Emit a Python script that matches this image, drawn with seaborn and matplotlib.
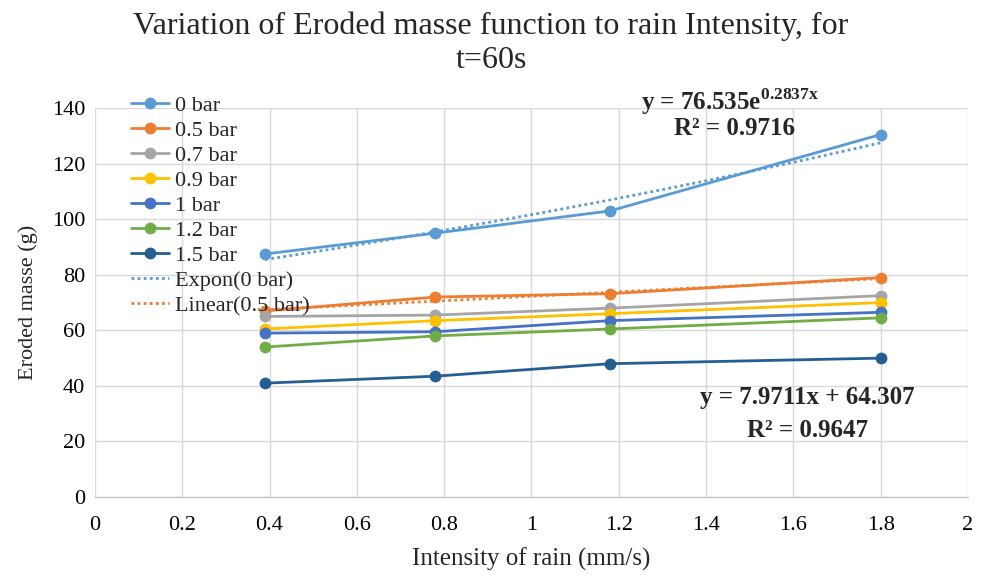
import numpy as np
import pandas as pd
import matplotlib
matplotlib.use("Agg")
import matplotlib.pyplot as plt
import seaborn as sns
from matplotlib.lines import Line2D

# data
intensity = [0.39, 0.78, 1.18, 1.8]
pressures = ["0 bar", "0.5 bar", "0.7 bar", "0.9 bar", "1 bar", "1.2 bar", "1.5 bar"]
mass_0 = [87.5, 95.0, 103.0, 130.5]
mass_05 = [67.0, 72.0, 73.2, 79.0]
mass_07 = [65.0, 65.5, 68.0, 72.5]
mass_09 = [60.5, 63.5, 66.0, 70.0]
mass_1 = [59.0, 59.5, 63.5, 66.5]
mass_12 = [54.0, 58.0, 60.5, 64.5]
mass_15 = [41.0, 43.5, 48.0, 50.0]

# trendline coefficients (as printed on the chart)
exp_a, exp_b = 76.535, 0.2837
lin_m, lin_c = 7.9711, 64.307

colors = ["#5B9BD5", "#ED7D31", "#A5A5A5", "#FFC000", "#4472C4", "#70AD47", "#255E91"]

all_mass = [mass_0, mass_05, mass_07, mass_09, mass_1, mass_12, mass_15]
df = pd.DataFrame({
    "x": intensity * len(pressures),
    "y": [v for s in all_mass for v in s],
    "series": [p for p in pressures for _ in intensity],
})

sns.set_style("white")
plt.rcParams["font.family"] = ["Liberation Serif", "DejaVu Serif"]
plt.rcParams["mathtext.fontset"] = "custom"
plt.rcParams["mathtext.rm"] = "Liberation Serif"
plt.rcParams["mathtext.bf"] = "Liberation Serif:bold"

fig = plt.figure(figsize=(9.82, 5.77), dpi=100)
ax = fig.add_axes([0.0967, 0.1386, 0.889, 0.674])

sns.lineplot(data=df, x="x", y="y", hue="series", hue_order=pressures,
             palette=colors, marker="o", markersize=8.5, markeredgewidth=0,
             linewidth=2, ax=ax, legend=False)

# trendlines
xt = np.linspace(intensity[0], intensity[-1], 60)
ax.plot(xt, exp_a * np.exp(exp_b * xt), ls=(0, (1, 1.2)), color=colors[0], lw=2)
ax.plot(xt, lin_m * xt + lin_c, ls=(0, (1, 1.2)), color=colors[1], lw=2)

ax.set_xlim(0, 2)
ax.set_ylim(0, 140)
ax.set_xticks(np.arange(0, 2.01, 0.2))
ax.set_xticklabels(["0", "0.2", "0.4", "0.6", "0.8", "1", "1.2", "1.4", "1.6", "1.8", "2"])
ax.set_yticks(range(0, 141, 20))
ax.grid(True, color="#D9D9D9", lw=1)
ax.set_axisbelow(True)
for s in ["top", "right", "left"]:
    ax.spines[s].set_visible(False)
ax.spines["bottom"].set_color("#BFBFBF")
ax.tick_params(axis="both", length=0, labelsize=16, colors="#000000")
ax.tick_params(axis="x", pad=14)
ax.tick_params(axis="y", pad=7)

ax.set_xlabel("Intensity of rain (mm/s)", fontsize=18, labelpad=9)
ax.set_ylabel("Eroded masse (g)", fontsize=16, labelpad=10)

fig.text(0.5, 0.955, "Variation of Eroded masse function to rain Intensity, for",
         ha="center", va="center", fontsize=23)
fig.text(0.5, 0.895, "t=60s", ha="center", va="center", fontsize=23)

# equations
ax.text(1.455, 142.3, r"y = 76.535e$^{\mathbf{0.2837x}}$", ha="center", va="center",
        fontsize=18, fontweight="bold")
ax.text(1.466, 132.5, "R² = 0.9716", ha="center", va="center", fontsize=18, fontweight="bold")
ax.text(1.633, 36.0, "y = 7.9711x + 64.307", ha="center", va="center", fontsize=18, fontweight="bold")
ax.text(1.633, 24.1, "R² = 0.9647", ha="center", va="center", fontsize=18, fontweight="bold")

# legend
handles = [Line2D([], [], color=c, lw=2, marker="o", markersize=8.5, markeredgewidth=0) for c in colors]
handles += [Line2D([], [], color=colors[0], lw=2, ls=(0, (1, 1.2))),
            Line2D([], [], color=colors[1], lw=2, ls=(0, (1, 1.2)))]
labels = pressures + ["Expon(0 bar)", "Linear(0.5 bar)"]
ax.legend(handles, labels, loc="upper left", bbox_to_anchor=(0.031, 1.055), frameon=False,
          fontsize=16, handlelength=1.7, handletextpad=0.3, labelspacing=0.2,
          borderaxespad=0)

fig.savefig("out.png", dpi=100)
